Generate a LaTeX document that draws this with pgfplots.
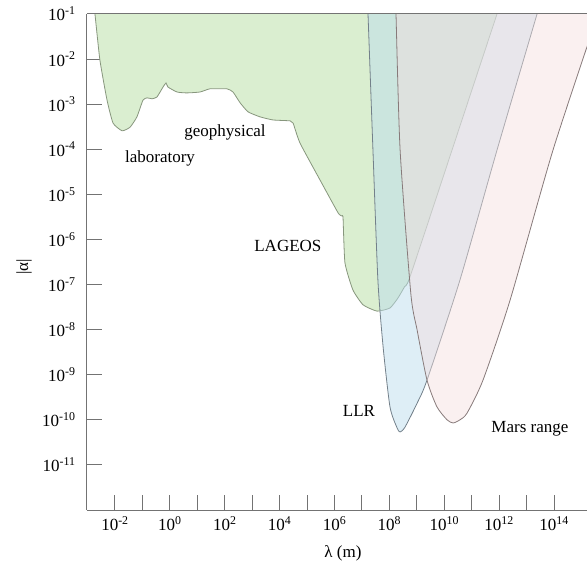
\documentclass[border=0pt]{standalone}
\usepackage{pgfplots}
\pgfplotsset{compat=1.18}
\usepackage{fontspec}
\setmainfont{Liberation Serif}
\definecolor{axgray}{RGB}{115,115,115}
\definecolor{gfill}{RGB}{218,238,208}
\definecolor{bfill}{RGB}{189,221,237}
\definecolor{pfill}{RGB}{244,222,222}
\definecolor{gedge}{RGB}{135,150,125}
\definecolor{bedge}{RGB}{115,128,138}
\definecolor{pedge}{RGB}{135,122,122}
\begin{document}
\begin{tikzpicture}[font=\fontsize{17bp}{20bp}\selectfont]
\begin{axis}[name=ax, scale only axis, width=500bp, height=496bp,
  xmin=-3.02, xmax=15.2, ymin=-12, ymax=-1,
  axis x line=bottom, axis y line=left,
  axis line style={-, draw=axgray, line width=1bp},
  tick align=inside, major tick length=15bp,
  tick style={draw=axgray, line width=1bp},
  xtick={-2,...,14},
  xticklabels={10\textsuperscript{-2},{},10\textsuperscript{0},{},10\textsuperscript{2},{},10\textsuperscript{4},{},10\textsuperscript{6},{},10\textsuperscript{8},{},10\textsuperscript{10},{},10\textsuperscript{12},{},10\textsuperscript{14}},
  ytick={-11,...,-1},
  yticklabels={10\textsuperscript{-11},10\textsuperscript{-10},10\textsuperscript{-9},10\textsuperscript{-8},10\textsuperscript{-7},10\textsuperscript{-6},10\textsuperscript{-5},10\textsuperscript{-4},10\textsuperscript{-3},10\textsuperscript{-2},10\textsuperscript{-1}},
  yticklabel style={xshift=-8bp},
  xticklabel style={yshift=-3bp},
  xlabel={λ (m)}, ylabel={|α|},
  xlabel style={at={(axis description cs:0.512,-0.087)}, anchor=center},
  ylabel style={at={(axis description cs:-0.126,0.49)}, anchor=center},
]
% laboratory / geophysical / LAGEOS
\addplot[draw=gedge, line width=0.8bp, fill=gfill, smooth, tension=0.3] coordinates {
(-2.75,-0.9) (-2.73,-1.0) (-2.55,-2.02) (-2.29,-2.91) (-2.07,-3.42) (-1.74,-3.59)
(-1.45,-3.51) (-1.20,-3.28) (-0.98,-2.91) (-0.83,-2.86) (-0.65,-2.88) (-0.47,-2.84)
(-0.25,-2.62) (-0.14,-2.53) (-0.07,-2.62) (0.26,-2.73) (0.62,-2.75) (1.10,-2.73)
(1.46,-2.66) (2.08,-2.66) (2.30,-2.73) (2.56,-2.97) (2.85,-3.17) (3.28,-3.28)
(3.76,-3.35) (4.38,-3.37) (4.49,-3.42) (4.74,-3.86) (5.47,-4.68) (6.13,-5.41)
(6.27,-5.48) (6.31,-5.52) (6.38,-6.52) (6.67,-7.12) (7.04,-7.45) (7.55,-7.59)
(8.02,-7.52) (8.31,-7.30) (8.55,-7.05) (8.75,-6.83) (10.28,-4.02) (11.92,-1.0) (11.97,-0.9)
};
% LLR
\addplot[draw=bedge, line width=0.8bp, fill=bfill, fill opacity=0.5, smooth, tension=0.4] coordinates {
(7.21,-0.9) (7.22,-1.0) (7.40,-4.02) (7.58,-6.90) (7.77,-8.38) (8.02,-9.71)
(8.28,-10.18) (8.39,-10.27) (8.57,-10.16) (9.01,-9.63) (9.37,-9.12) (10.57,-6.90)
(11.92,-4.02) (13.38,-1.0) (13.43,-0.9)
};
% Mars range
\addplot[draw=pedge, line width=0.8bp, fill=pfill, fill opacity=0.45, smooth, tension=0.4] coordinates {
(8.23,-0.9) (8.24,-1.0) (8.39,-4.02) (8.78,-7.2) (9.01,-8.01) (9.37,-9.12)
(9.73,-9.71) (10.10,-10.00) (10.32,-10.07) (10.57,-10.00) (10.83,-9.85)
(11.41,-9.12) (12.40,-7.34) (13.96,-4.02) (15.60,-1.0) (15.65,-0.9)
};
\node at (axis cs:2.01,-3.62) {geophysical};
\node at (axis cs:-0.36,-4.21) {laboratory};
\node at (axis cs:4.30,-6.14) {LAGEOS};
\node at (axis cs:6.89,-9.80) {LLR};
\node at (axis cs:13.12,-10.20) {Mars range};
\end{axis}
\draw[axgray, line width=1bp] (ax.north west) -- (ax.north east);
\pgfresetboundingbox
\path[use as bounding box] ([xshift=-87bp,yshift=-59bp]ax.south west) rectangle ([yshift=14bp]ax.north east);
\end{tikzpicture}
\end{document}
